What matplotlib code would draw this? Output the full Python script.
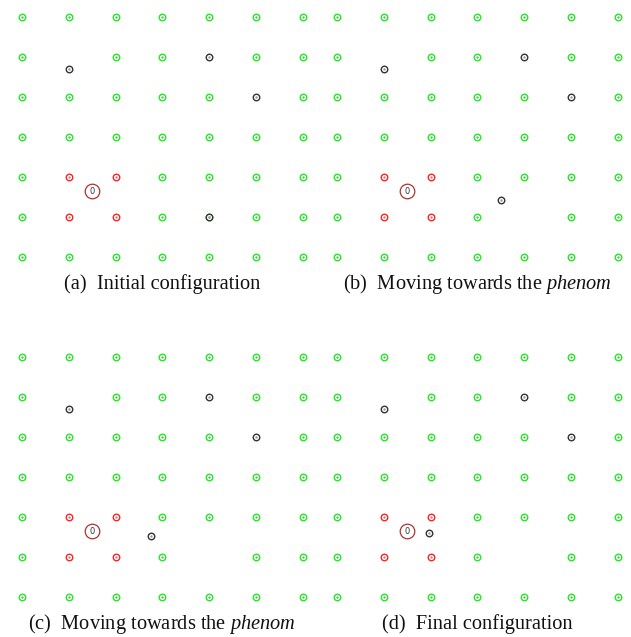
import matplotlib
matplotlib.use('Agg')
import matplotlib.pyplot as plt
import numpy as np

# 7x7 lattice of sensor nodes
grid_cols = [0, 1, 2, 3, 4, 5, 6]
grid_rows = [0, 1, 2, 3, 4, 5, 6]

# nodes that are not plain (green) lattice nodes
red_nodes = [(1, 2), (2, 2), (1, 1), (2, 1)]
black_static = [(4, 5), (5, 4), (1, 4.7)]
empty_slots = [(1, 5), (4, 1)]

phenom_pos = (1.5, 1.65)
phenom_label = '0'

# mobile node position for each stage
mobile_x = [4.0, 3.5, 2.76, 1.97]
mobile_y = [1.0, 1.43, 1.53, 1.61]

captions = [
    '(a)  Initial configuration',
    r'(b)  Moving towards the $\it{phenom}$',
    r'(c)  Moving towards the $\it{phenom}$',
    '(d)  Final configuration',
]

plt.rcParams['font.family'] = ['Liberation Serif', 'DejaVu Serif']
plt.rcParams['mathtext.fontset'] = 'custom'
plt.rcParams['mathtext.rm'] = 'Liberation Serif'
plt.rcParams['mathtext.it'] = 'Liberation Serif:italic'

W, H = 631, 637
fig = plt.figure(figsize=(W / 100, H / 100), dpi=100)

GREEN = '#1aee1a'
RED = '#ff2020'
BLACK = '#333333'
DOT = '#999999'

# panel origins (pixel x of column 0, pixel y of row 0, from top)
origins = [(22, 257), (337, 257), (22, 597), (337, 597)]
dx, dy = 46.75, 40.0
pad = 0.3


def draw_nodes(ax, pts, color):
    if not pts:
        return
    xs, ys = zip(*pts)
    ax.scatter(xs, ys, s=22, facecolors='white', edgecolors=color, linewidths=1.0, zorder=3)
    ax.scatter(xs, ys, s=3, color=DOT, linewidths=0, zorder=4)


for i, (ox, oy) in enumerate(origins):
    left = ox - pad * dx
    top = oy - 6 * dy - pad * dy
    w = (6 + 2 * pad) * dx
    h = (6 + 2 * pad) * dy
    ax = fig.add_axes([left / W, 1 - (top + h) / H, w / W, h / H])
    ax.set_xlim(-pad, 6 + pad)
    ax.set_ylim(-pad, 6 + pad)
    ax.axis('off')

    special = set(red_nodes) | set(black_static) | set(empty_slots)
    if i == 0:
        special.discard((4, 1))
    green = [(c, r) for r in grid_rows for c in grid_cols if (c, r) not in special]
    draw_nodes(ax, green, GREEN)
    draw_nodes(ax, red_nodes, RED)
    draw_nodes(ax, black_static + [(mobile_x[i], mobile_y[i])], BLACK)

    ax.scatter([phenom_pos[0]], [phenom_pos[1]], s=110, facecolors='white',
               edgecolors='#b03030', linewidths=0.9, zorder=3)
    ax.text(phenom_pos[0], phenom_pos[1], phenom_label, ha='center', va='center',
            fontsize=6, family='DejaVu Sans', color='#333333', zorder=4)

    fig.text((ox + 3 * dx) / W, 1 - (oy + 27) / H, captions[i],
             ha='center', va='center', fontsize=14.7, color='#111111')

fig.savefig('out.png', dpi=100, facecolor='white')
